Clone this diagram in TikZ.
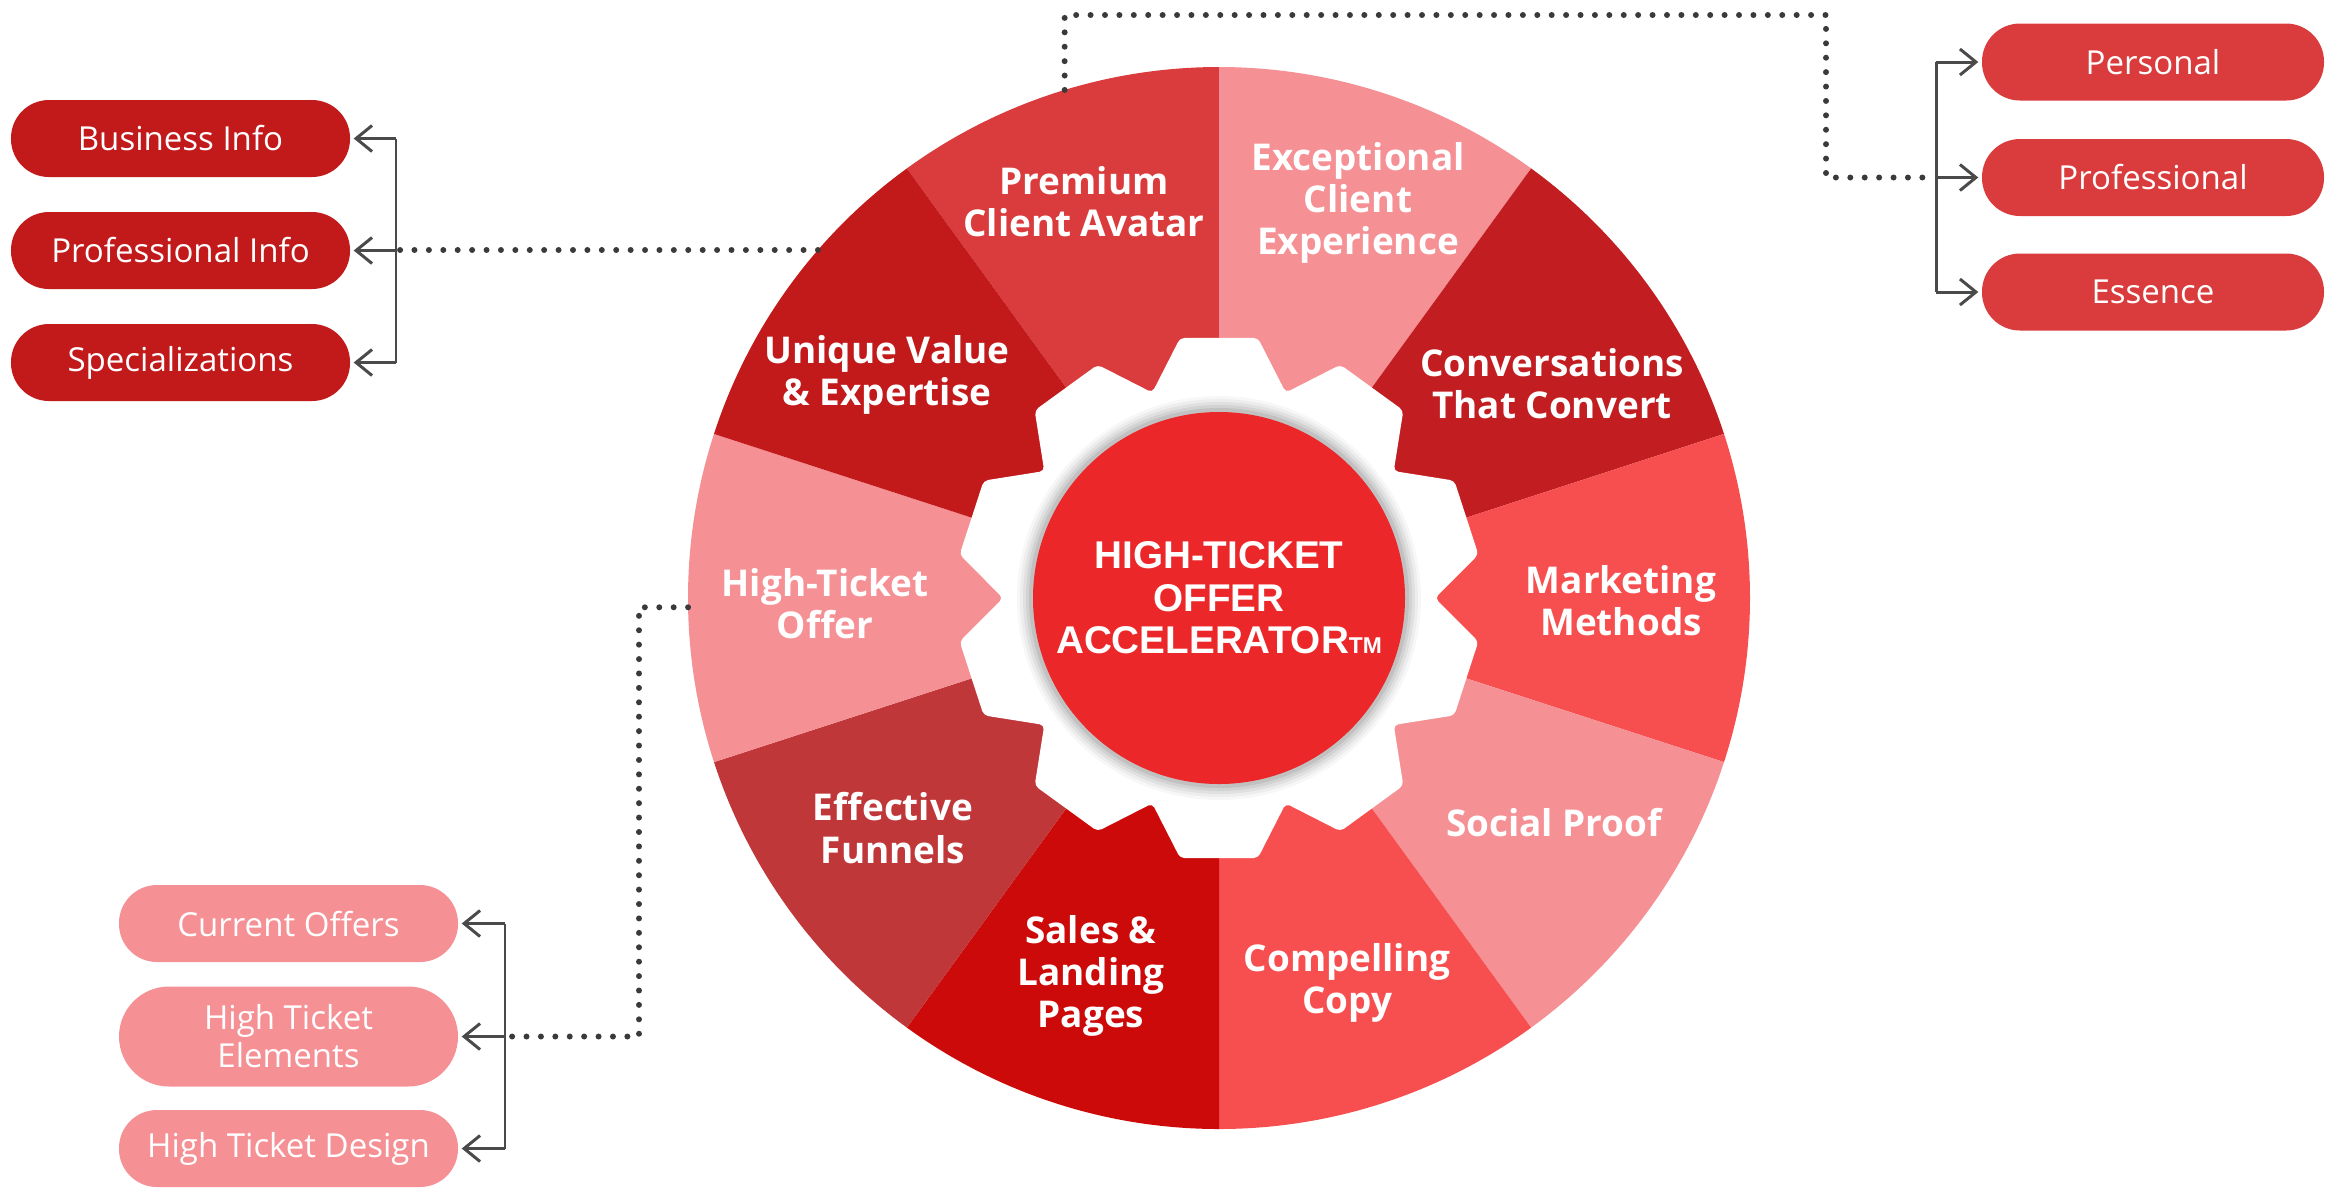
\documentclass[tikz,border=0pt]{standalone}
\usepackage{fontspec}
\setmainfont{Open Sans}
\newfontfamily\ctrfont{Liberation Sans}
\usetikzlibrary{arrows.meta,calc}
\definecolor{cPrem}{HTML}{DA3B3C}
\definecolor{cPink}{HTML}{F59095}
\definecolor{cConv}{HTML}{C21E22}
\definecolor{cBright}{HTML}{F74F50}
\definecolor{cSales}{HTML}{CC0A0A}
\definecolor{cFunn}{HTML}{C0373A}
\definecolor{cUniq}{HTML}{C2191B}
\definecolor{cCtr}{HTML}{EC2729}
\definecolor{cLine}{HTML}{4A4A4A}
\definecolor{cDot}{HTML}{3A3A3A}
\begin{document}
\begin{tikzpicture}[
  seglabel/.style={text=white, font=\bfseries\fontsize{10.5}{12}\selectfont, align=center, inner sep=0pt},
  pill/.style={fill=#1, text=white, rounded corners=0.38cm, minimum width=3.39cm, minimum height=0.77cm, font=\fontsize{9.4}{10.8}\selectfont, align=center, inner sep=0pt},
  brk/.style={draw=cLine, line width=0.85pt, -{Straight Barb[length=1.6mm,width=2.6mm]}, shorten >=0.03cm},
  brkline/.style={draw=cLine, line width=0.85pt},
  dotline/.style={draw=cDot, line width=1.7pt, line cap=round, dash pattern=on 0pt off 4.1pt},
]
\useasboundingbox (0,0) rectangle (23.43,-11.88);
\coordinate (C) at (12.19,-5.98);
% wheel segments
\foreach \a/\c in {90/cPrem,54/cPink,18/cConv,-18/cBright,-54/cPink,-90/cBright,-126/cSales,-162/cFunn,-198/cPink,-234/cUniq}{
  \fill[\c] (C) -- ++(\a:5.31) arc[start angle=\a, end angle=\a+36, radius=5.31] -- cycle;
}
% gear
\fill[white, rounded corners=0.045cm] ($(C)+(72:2.16)$) -- ($(C)+(81.5:2.63)$) -- ($(C)+(98.5:2.63)$)
  \foreach \a in {126,162,...,414}{ -- ($(C)+(\a-18:2.16)$) -- ($(C)+(\a-8.5:2.63)$) -- ($(C)+(\a+8.5:2.63)$)} -- cycle;
% centre shadow
\foreach \r/\o in {2.02/0.03,1.99/0.04,1.96/0.05,1.93/0.06,1.90/0.08}{
  \fill[black, opacity=\o] (C) circle (\r);
}
\node[circle, fill=cCtr, minimum size=3.72cm, inner sep=0pt, text=white, align=center,
  font=\ctrfont\bfseries\fontsize{11}{12.1}\selectfont] (ctr) at (C)
  {HIGH-TICKET\\OFFER\\ACCELERATOR{\fontsize{6.5}{7}\selectfont TM}};
% segment labels
\node[seglabel] (lprem) at (10.84,-2.02) {Premium\\Client Avatar};
\node[seglabel] (lexc) at (13.58,-2.03) {Exceptional\\Client\\Experience};
\node[seglabel] (lconv) at (15.52,-3.84) {Conversations\\That Convert};
\node[seglabel] (lmark) at (16.21,-6.01) {Marketing\\Methods};
\node[seglabel] (lsoc) at (15.54,-8.23) {Social Proof};
\node[seglabel] (lcomp) at (13.47,-9.83) {Compelling\\Copy};
\node[seglabel] (lsales) at (10.91,-9.76) {Sales \&\\Landing\\Pages};
\node[seglabel] (lfun) at (8.93,-8.28) {Effective\\Funnels};
\node[seglabel] (lhto) at (8.25,-6.04) {High-Ticket\\Offer};
\node[seglabel] (luniq) at (8.87,-3.75) {Unique Value\\\& Expertise};
% left-top pills
\node[pill=cUniq] (biz) at (1.805,-1.385) {Business Info};
\node[pill=cUniq] (pinfo) at (1.805,-2.505) {Professional Info};
\node[pill=cUniq] (spec) at (1.805,-3.625) {Specializations};
% right pills
\node[pill=cPrem, minimum width=3.42cm] (pers) at (21.53,-0.62) {Personal};
\node[pill=cPrem, minimum width=3.42cm] (prof) at (21.53,-1.775) {Professional};
\node[pill=cPrem, minimum width=3.42cm] (ess) at (21.53,-2.92) {Essence};
% bottom-left pills
\node[pill=cPink] (cur) at (2.885,-9.235) {Current Offers};
\node[pill=cPink, minimum height=1.0cm, rounded corners=0.5cm] (hte) at (2.885,-10.365) {High Ticket\\Elements};
\node[pill=cPink] (htd) at (2.885,-11.485) {High Ticket Design};
% brackets
\coordinate (lbr) at (3.96,-2.505);
\draw[brkline] (lbr |- biz.east) -- (lbr |- spec.east);
\foreach \n in {biz,pinfo,spec} \draw[brk] (lbr |- \n.east) -- (\n.east);
\coordinate (rbr) at (19.36,-1.775);
\draw[brkline] (rbr |- pers.west) -- (rbr |- ess.west);
\foreach \n in {pers,prof,ess} \draw[brk] (rbr |- \n.west) -- (\n.west);
\coordinate (bbr) at (5.05,-10.365);
\draw[brkline] (bbr |- cur.east) -- (bbr |- htd.east);
\foreach \n in {cur,hte,htd} \draw[brk] (bbr |- \n.east) -- (\n.east);
% dotted connectors
\coordinate (w1) at ($(C)+(106.9:5.31)$);
\coordinate (w2) at ($(C)+(139.05:5.31)$);
\coordinate (w3) at ($(C)+(181:5.31)$);
\coordinate (k1) at (18.26,-0.15);
\coordinate (k3) at (6.39,-10.365);
\draw[dotline] (w1) |- (k1) |- (rbr |- prof.west);
\draw[dotline] (w2) -- (lbr |- w2);
\draw[dotline] (w3) -| (k3) -- (bbr |- hte.east);
\end{tikzpicture}
\end{document}
